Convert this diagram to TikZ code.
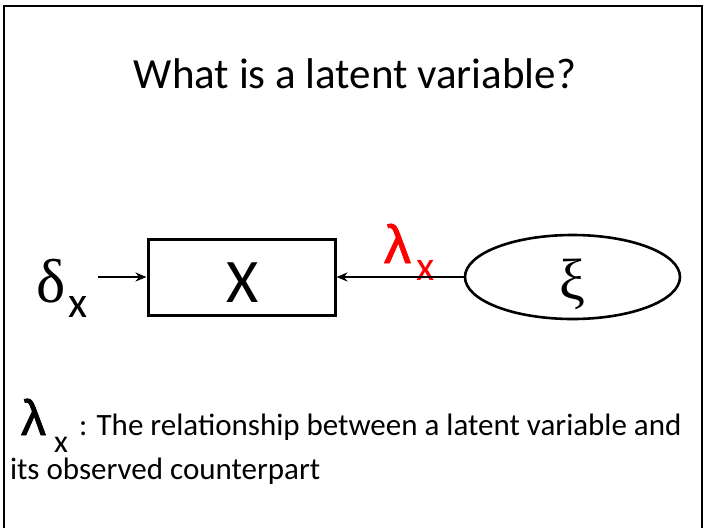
\documentclass[tikz,border=0pt]{standalone}
\usepackage{fontspec}
\setmainfont{Carlito}
\newfontfamily\GrSansFont{Liberation Sans}[FakeBold=1.5]
\newfontfamily\GrSerifFont{Liberation Serif}
\usetikzlibrary{shapes.geometric,arrows.meta}
\definecolor{lamred}{RGB}{255,0,0}
\tikzset{
  txt/.style={inner sep=0pt, outer sep=0pt, anchor=base west},
  shapeline/.style={draw=black, line width=3pt},
}
\begin{document}
\begin{tikzpicture}
\useasboundingbox (0,0) rectangle (705pt,-528pt);
\begin{scope}[x=1pt,y=-1pt]
% frame
\draw[line width=2pt] (3.5,528) -- (3.5,5.5) -- (702,5.5) -- (702,528);
% title
\node[inner sep=0pt, anchor=base] (title) at (355,88) {\fontsize{43}{50}\selectfont What is a latent variable?};
% observed box
\node[shapeline, rectangle, minimum width=187pt, minimum height=76pt, inner sep=0pt] (X) at (241.5,277) {};
\node[inner sep=0pt, anchor=base] (Xlab) at (242.5,302) {\fontsize{62}{64}\selectfont X};
% latent ellipse
\node[ellipse, draw=black, line width=2.6pt, minimum width=215pt, minimum height=84pt, inner sep=0pt] (xi) at (572.5,277) {};
\node[inner sep=0pt, anchor=base] (xisym) at (572.5,299) {\fontsize{58}{60}\GrSerifFont ξ};
% delta
\node[txt] (delta) at (36,302) {\fontsize{62}{64}\GrSerifFont δ};
\node[txt] (deltasub) at (68,317) {\fontsize{44}{48}\selectfont x};
\coordinate (dstart) at (98,277);
% red lambda label
\node[txt, text=lamred] (lam) at (384,263) {\fontsize{54}{58}\GrSansFont λ};
\node[txt, text=lamred] (lamsub) at (416,280) {\fontsize{42}{44}\selectfont x};
% bottom definition
\node[txt] (blam) at (21,435) {\fontsize{50}{54}\GrSansFont λ};
\node[txt] (blamsub) at (54,452) {\fontsize{32}{34}\selectfont x};
\node[txt] (def1) at (79,435) {\fontsize{31}{36}\selectfont : The relationship between a latent variable and};
\node[txt] (def2) at (10,479) {\fontsize{31}{36}\selectfont its observed counterpart};
\end{scope}
% connectors
\draw[line width=2.4pt, -{Stealth[length=11pt,width=9pt]}] (dstart) -- (X.west);
\draw[line width=2.4pt, -{Stealth[length=11pt,width=9pt]}] (xi.west) -- (X.east);
\end{tikzpicture}
\end{document}
